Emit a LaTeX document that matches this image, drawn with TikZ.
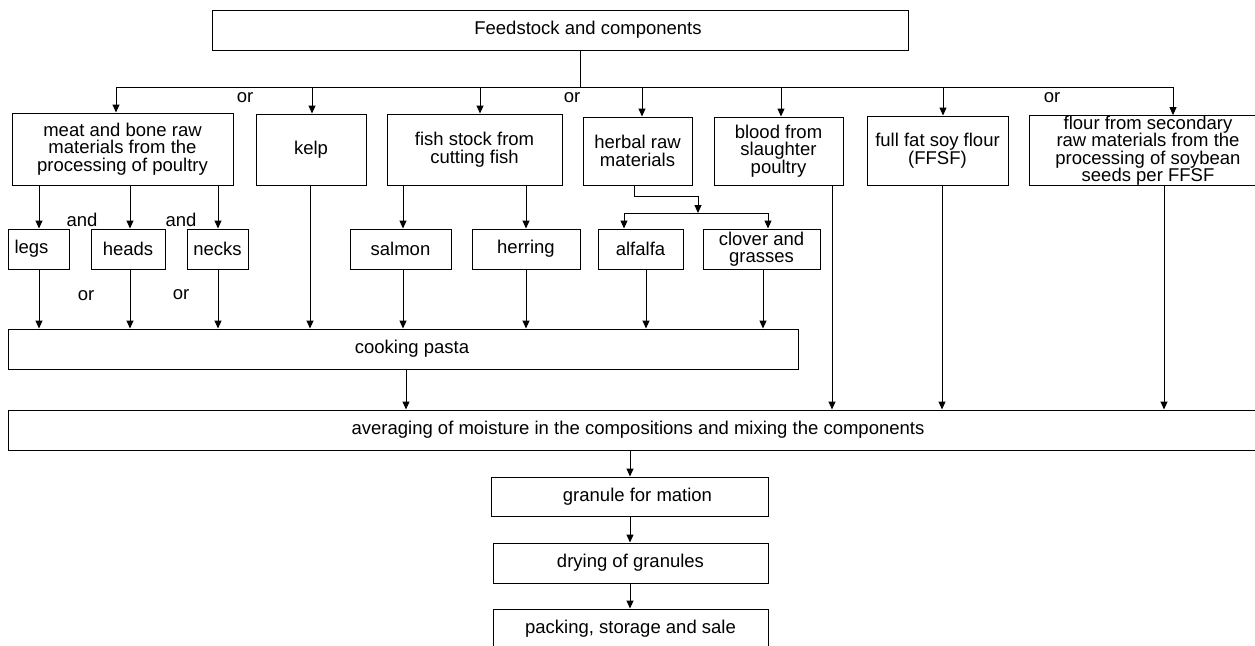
\documentclass[tikz,border=0pt]{standalone}
\usepackage{fontspec}
\setmainfont{Liberation Sans}
\usetikzlibrary{arrows.meta}
\newcommand\fsz{\fontsize{18.5}{17.5}\selectfont}
\tikzset{
  box/.style={draw, line width=1pt, align=center, inner sep=0pt, font=\fsz},
  conn/.style={line width=1pt},
  arr/.style={line width=1pt, -{Triangle[length=8pt,width=7pt]}},
  lbl/.style={inner sep=0pt, font=\fsz}
}
\begin{document}
\begin{tikzpicture}[x=1pt,y=-1pt]
\useasboundingbox (0,0) rectangle (1255,645);
% boxes
\node[box, minimum width=696pt, minimum height=40pt] (top) at (560,30) {\hspace*{56pt}Feedstock and components};
\node[box, minimum width=221pt, minimum height=72pt] (meat) at (122.5,149) {meat and bone raw\\materials from the\\processing of poultry};
\node[box, minimum width=110pt, minimum height=71pt] (kelp) at (311,149.5) {kelp};
\node[box, minimum width=175pt, minimum height=71pt] (fish) at (474.5,149.5) {fish stock from\\cutting fish};
\node[box, minimum width=109pt, minimum height=68pt] (herbal) at (637.5,151) {herbal raw\\materials};
\node[box, minimum width=129pt, minimum height=68pt] (blood) at (778.5,151) {blood from\\slaughter\\poultry};
\node[box, minimum width=141pt, minimum height=69pt] (ffsf) at (937.5,150.5) {full fat soy flour\\(FFSF)};
\node[box, minimum width=238pt, minimum height=69pt] (flour) at (1148,150.5) {flour from secondary\\raw materials from the\\processing of soybean\\seeds per FFSF};
\node[box, minimum width=61pt, minimum height=40pt] (legs) at (38.5,249) {legs\hspace*{14pt}};
\node[box, minimum width=74pt, minimum height=40pt] (heads) at (128,249) {heads};
\node[box, minimum width=61pt, minimum height=40pt] (necks) at (217.5,249) {necks};
\node[box, minimum width=101pt, minimum height=40pt] (salmon) at (400.5,249) {salmon};
\node[box, minimum width=108pt, minimum height=40pt] (herring) at (526,249) {herring};
\node[box, minimum width=85pt, minimum height=40pt] (alfalfa) at (640.5,249) {alfalfa};
\node[box, minimum width=117pt, minimum height=40pt] (clover) at (761.5,249) {clover and\\grasses};
\node[box, minimum width=790pt, minimum height=40pt] (cooking) at (403,349) {\hspace*{18pt}cooking pasta};
\node[box, minimum width=1260pt, minimum height=40pt] (avg) at (638,430) {averaging of moisture in the compositions and mixing the components};
\node[box, minimum width=277pt, minimum height=39pt] (granule) at (629.5,496.5) {\hspace*{16pt}granule for mation};
\node[box, minimum width=275pt, minimum height=40pt] (drying) at (630.5,563) {drying of granules};
\node[box, minimum width=275pt, minimum height=40pt] (packing) at (630.5,629) {packing, storage and sale};
% labels
\node[lbl] (or1) at (245,98) {or};
\node[lbl] (or2) at (572,98) {or};
\node[lbl] (or3) at (1052,98) {or};
\node[lbl] (and1) at (82,220) {and};
\node[lbl] (and2) at (181,219.5) {and};
\node[lbl] (or4) at (86,296) {or};
\node[lbl] (or5) at (181,295) {or};
% top distribution bus
\coordinate (hub) at (580,87);
\coordinate (busL) at (116,87);
\coordinate (busR) at (1173,87);
\draw[conn] (top.south -| hub) -- (hub);
\draw[conn] (busL) -- (busR);
\draw[arr] (busL) -- (meat.north -| busL);
\draw[arr] (hub -| 312,0) -- (kelp.north -| 312,0);
\draw[arr] (hub -| 480,0) -- (fish.north -| 480,0);
\draw[arr] (hub -| 642,0) -- (herbal.north -| 642,0);
\draw[arr] (hub -| 781,0) -- (blood.north -| 781,0);
\draw[arr] (hub -| 943,0) -- (ffsf.north -| 943,0);
\draw[arr] (busR) -- (flour.north -| busR);
% meat parts
\draw[arr] (meat.south -| 39,0) -- (legs.north -| 39,0);
\draw[arr] (meat.south -| 130,0) -- (heads.north -| 130,0);
\draw[arr] (meat.south -| 218,0) -- (necks.north -| 218,0);
\draw[arr] (legs.south -| 39,0) -- (cooking.north -| 39,0);
\draw[arr] (heads.south -| 130,0) -- (cooking.north -| 130,0);
\draw[arr] (necks.south -| 218,0) -- (cooking.north -| 218,0);
\draw[arr] (kelp.south -| 310,0) -- (cooking.north -| 310,0);
% fish
\draw[arr] (fish.south -| 403,0) -- (salmon.north -| 403,0);
\draw[arr] (fish.south -| 526,0) -- (herring.north -| 526,0);
\draw[arr] (salmon.south -| 403,0) -- (cooking.north -| 403,0);
\draw[arr] (herring.south -| 526,0) -- (cooking.north -| 526,0);
% herbal
\coordinate (hb) at (698,196);
\coordinate (hsplit) at (698,213);
\coordinate (hsL) at (624,213);
\coordinate (hsR) at (768,213);
\draw[conn] (herbal.south -| 634,0) |- (hb);
\draw[arr] (hb) -- (hsplit);
\draw[conn] (hsL) -- (hsR);
\draw[arr] (hsL) -- (alfalfa.north -| hsL);
\draw[arr] (hsR) -- (clover.north -| hsR);
\draw[arr] (alfalfa.south -| 646,0) -- (cooking.north -| 646,0);
\draw[arr] (clover.south -| 763,0) -- (cooking.north -| 763,0);
% to mixing
\draw[arr] (cooking.south -| 406,0) -- (avg.north -| 406,0);
\draw[arr] (blood.south -| 832,0) -- (avg.north -| 832,0);
\draw[arr] (ffsf.south -| 942,0) -- (avg.north -| 942,0);
\draw[arr] (flour.south -| 1164,0) -- (avg.north -| 1164,0);
% final chain
\draw[arr] (avg.south -| 630,0) -- (granule.north -| 630,0);
\draw[arr] (granule.south -| 630,0) -- (drying.north -| 630,0);
\draw[arr] (drying.south -| 630,0) -- (packing.north -| 630,0);
\end{tikzpicture}
\end{document}
